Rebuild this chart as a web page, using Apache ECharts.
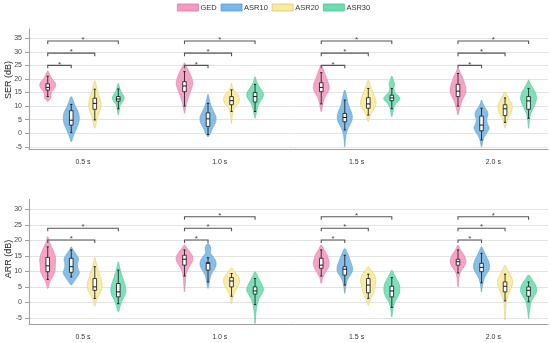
<!DOCTYPE html>
<html><head><meta charset="utf-8">
<script src="https://cdn.jsdelivr.net/npm/echarts@6/dist/echarts.min.js"></script>
<style>html,body{margin:0;padding:0;background:#fff}#c{width:550px;height:343px}</style>
</head><body><div id="c"></div>
<script>
const categories = ['0.5 s', '1.0 s', '1.5 s', '2.0 s'];
const groups = ['GED', 'ASR10', 'ASR20', 'ASR30'];
const serTicks = [-5, 0, 5, 10, 15, 20, 25, 30, 35];
const arrTicks = [-5, 0, 5, 10, 15, 20, 25, 30];

// Violin outlines per time window: [value in dB, relative density]
const serGED = [
  [[23.0,0],[22,0.2],[21,0.35],[20,0.55],[19,0.85],[18,1.0],[17,0.95],[16,0.7],[15,0.45],[14,0.4],[13,0.4],[12.3,0.2],[11.6,0]],
  [[26,0],[25,0.15],[24,0.35],[22,0.7],[20,0.95],[18.5,1.05],[17,0.95],[15,0.7],[13,0.45],[11,0.25],[9,0.12],[7.3,0]],
  [[25.1,0],[24,0.2],[22,0.45],[20,0.7],[18,0.95],[16.5,1.0],[15,0.8],[13.5,0.5],[12,0.3],[10,0.15],[7.9,0]],
  [[23.9,0],[22.5,0.25],[21,0.5],[19,0.75],[17,0.95],[15.5,1.0],[14,0.85],[12,0.5],[10,0.3],[8.5,0.15],[6.7,0]]
];
const serASR10 = [
  [[13.5,0],[12,0.25],[10,0.5],[8,0.85],[6,1.0],[4,0.95],[2,0.7],[0,0.4],[-1.5,0.2],[-3.2,0]],
  [[14.4,0],[12,0.2],[10,0.4],[8,0.7],[6,1.0],[4,0.95],[2,0.6],[0,0.3],[-1.3,0]],
  [[15.9,0],[14,0.2],[12,0.35],[10,0.5],[8,0.8],[6,0.95],[4,0.8],[2,0.45],[0,0.2],[-2,0.1],[-5,0]],
  [[12.2,0],[11,0.15],[9.5,0.4],[8,0.75],[6.5,0.8],[5,0.65],[3.5,0.75],[2,0.95],[0.5,0.75],[-1,0.4],[-2.5,0.2],[-5,0]]
];
const serASR20 = [
  [[19.4,0],[18,0.15],[16,0.3],[14,0.5],[12,0.7],[10,0.78],[8,0.6],[6,0.35],[4,0.2],[2.5,0.1],[1.8,0]],
  [[18.4,0],[17,0.12],[16,0.3],[15,0.55],[14,0.85],[12.5,1.0],[11,0.85],[10,0.55],[8.5,0.25],[7,0.12],[5,0.05],[3.6,0]],
  [[19.6,0],[18,0.2],[16,0.45],[14,0.75],[12,0.95],[10.5,0.95],[9,0.7],[7.5,0.4],[6,0.2],[4.2,0]],
  [[15.3,0],[14,0.25],[12.5,0.55],[11,0.8],[9.5,0.9],[8,0.8],[6.5,0.55],[5,0.3],[3.5,0.15],[1.8,0]]
];
const serASR30 = [
  [[18.4,0],[17,0.15],[16,0.25],[15,0.4],[14,0.62],[13,0.75],[12,0.62],[11,0.4],[10,0.2],[8.5,0.12],[6.7,0]],
  [[20.8,0],[19,0.2],[17.5,0.45],[16,0.8],[14.5,1.05],[13,0.95],[11.5,0.6],[10,0.35],[8,0.2],[6.5,0.1],[5.5,0]],
  [[21.1,0],[19.5,0.2],[18,0.35],[16.5,0.25],[15,0.4],[13.5,0.9],[12.5,1.0],[11,0.55],[9.5,0.25],[8,0.15],[6.1,0]],
  [[19.6,0],[18,0.25],[16.5,0.55],[15,0.85],[13,1.0],[11.5,0.9],[10,0.7],[8.5,0.45],[7,0.25],[5,0.12],[1.8,0]]
];
const arrGED = [
  [[21.2,0],[19.5,0.2],[18,0.45],[16,0.8],[14,1.0],[12,0.95],[10,0.9],[8,0.55],[6.5,0.25],[4.5,0]],
  [[18.5,0],[17.5,0.3],[16,0.75],[14.5,1.05],[13,0.95],[11.5,0.6],[10,0.3],[8,0.15],[6,0.1],[3.4,0]],
  [[18.5,0],[17,0.35],[15.5,0.7],[14,0.9],[12.5,1.0],[11,0.85],[9.5,0.5],[8,0.2],[6.1,0]],
  [[18.5,0],[17,0.3],[15.5,0.7],[14,0.95],[13,1.0],[11.5,0.75],[10,0.35],[8.5,0.15],[6.5,0.08],[5,0]]
];
const arrASR10 = [
  [[17.9,0],[17,0.2],[15.5,0.6],[14,0.9],[12.5,0.8],[11,0.85],[9.5,1.0],[8,0.7],[6.5,0.3],[5.6,0]],
  [[19,0],[18,0.3],[17,0.35],[16,0.3],[15,0.55],[13.5,0.95],[12,1.0],[10.5,0.75],[9,0.4],[7,0.2],[4.5,0]],
  [[17.4,0],[16,0.3],[14.5,0.55],[13,0.75],[11.5,0.95],[10,0.95],[8.5,0.6],[7,0.3],[5,0.12],[2.9,0]],
  [[17.9,0],[16.5,0.3],[15,0.55],[13.5,0.85],[12,1.0],[10.5,0.95],[9,0.6],[7.5,0.3],[5.5,0.12],[3.4,0]]
];
const arrASR20 = [
  [[14.5,0],[13,0.15],[11.5,0.3],[10,0.45],[8.5,0.65],[7,0.85],[5.5,0.95],[4,0.85],[2.5,0.55],[1,0.25],[-1.2,0]],
  [[11.2,0],[10.2,0.3],[9,0.7],[7.5,1.0],[6,0.95],[4.5,0.65],[3,0.35],[1.5,0.15],[-0.4,0]],
  [[11.5,0],[10.5,0.3],[9,0.75],[7.5,0.95],[6,0.9],[4.5,0.8],[3,0.65],[1.5,0.35],[0,0.15],[-0.9,0]],
  [[12,0],[10.5,0.3],[9,0.6],[7.5,0.9],[6,0.95],[4.5,0.75],[3,0.5],[1.5,0.3],[0,0.15],[-2.5,0.08],[-5.7,0]]
];
const arrASR30 = [
  [[13.1,0],[11.5,0.15],[10,0.3],[8,0.55],[6,0.8],[4,0.95],[2.5,0.85],[1,0.55],[-1,0.25],[-3.1,0]],
  [[9.9,0],[8.5,0.3],[7,0.6],[5.5,0.9],[4,1.05],[2.5,0.8],[1,0.45],[-1,0.25],[-3,0.12],[-5,0.06],[-6.8,0]],
  [[10.4,0],[9,0.3],[7.5,0.6],[6,0.9],[4.5,1.0],[3,0.95],[1.5,0.7],[0,0.35],[-2,0.15],[-4.7,0]],
  [[8.8,0],[7.5,0.4],[6,0.8],[4.5,1.0],[3,0.95],[1.5,0.6],[0,0.3],[-2,0.15],[-3.5,0.08],[-5.2,0]]
];

// Box stats: [lower whisker, Q1, median, Q3, upper whisker]
const serGEDBox   = [[13.5,15.9,16.9,18.2,21],[10,15.3,17.4,19,22.7],[10.8,15.3,16.9,18.6,22.3],[10,13.5,15.5,18,22]];
const serASR10Box = [[0.2,3.0,4.8,8.3,10.6],[-0.5,2.5,5.3,7.5,11],[1.2,4.2,5.8,7.3,12.2],[-2.5,0.9,3.0,6.3,9.2]];
const serASR20Box = [[4.9,8.8,11.0,12.9,16.2],[8,10.5,12.0,13.5,16],[6.7,9.2,10.8,13.1,16.5],[4,6.5,9,10.5,13]];
const serASR30Box = [[9,11.8,12.6,13.5,16.3],[8,11.5,13.5,15,18],[9,12,13,14,16.5],[5.5,8.8,11.9,13.5,16.5]];
const arrGEDBox   = [[7.4,9.9,11.8,14.5,17.9],[8.5,12.0,13.9,15.2,16.9],[8.5,11.0,12.0,14.2,16.9],[9.5,12.0,13.1,13.9,16.9]];
const arrASR10Box = [[8.2,9.7,11.5,14.2,16.9],[6.6,10.4,12.6,12.8,14.4],[5.6,8.8,10.7,11.5,15.2],[6.3,9.9,11.3,12.6,15.8]];
const arrASR20Box = [[1.3,3.9,5.0,7.7,11.5],[2.0,5.0,6.9,8.0,9.3],[1.3,3.1,5.6,7.7,9.1],[0.5,3.4,5.2,6.6,9.1]];
const arrASR30Box = [[-0.4,1.8,3.4,6.1,10.4],[-0.7,2.7,3.7,5.0,7.7],[-1.6,1.8,3.7,5.2,8.0],[0.2,2.0,3.9,5.0,6.6]];

// Significance brackets: [time index, from group, to group, height (dB)]
const serBrackets = [
  [0,0,1,25],[0,0,2,29.5],[0,0,3,34],
  [1,0,1,25],[1,0,2,29.5],[1,0,3,34],
  [2,0,1,25],[2,0,2,29.5],[2,0,3,34],
  [3,0,1,25],[3,0,2,29.5],[3,0,3,34]
];
const arrBrackets = [
  [0,0,2,20.1],[0,0,3,23.9],
  [1,0,1,20.1],[1,0,2,23.9],[1,0,3,27.6],
  [2,0,1,20.1],[2,0,2,23.9],[2,0,3,27.6],
  [3,0,1,20.1],[3,0,2,23.9],[3,0,3,27.6]
];

const COLORS = ['#F49AC1', '#79B7E6', '#F7EA9C', '#6EDDB1'];
const EDGES  = ['#E07AA6', '#5A9DD2', '#DCCB6E', '#4DC295'];
const DODGE = 0.172;
const HALF = 8;
const BOXH = 1.8;
const FONT = 'Liberation Sans, Arial, sans-serif';

const profiles = [[serGED, serASR10, serASR20, serASR30], [arrGED, arrASR10, arrASR20, arrASR30]];
const boxes = [[serGEDBox, serASR10Box, serASR20Box, serASR30Box], [arrGEDBox, arrASR10Box, arrASR20Box, arrASR30Box]];
const brackets = [serBrackets, arrBrackets];

function makeViolin(prof, box, h) {
  return function (params, api) {
    const i = params.dataIndex;
    const p = prof[i], b = box[i];
    const xc = i + (h - 1.5) * DODGE;
    const cx = api.coord([xc, 0])[0];
    const right = [], left = [];
    p.forEach(function (d) {
      const y = api.coord([xc, d[0]])[1];
      right.push([cx + d[1] * HALF, y]);
      left.push([cx - d[1] * HALF, y]);
    });
    const pts = right.concat(left.slice(1, -1).reverse());
    const yv = b.map(function (v) { return api.coord([xc, v])[1]; });
    return {
      type: 'group',
      children: [
        { type: 'polygon', shape: { points: pts, smooth: 0.35 },
          style: { fill: COLORS[h], opacity: 0.9, stroke: EDGES[h], lineWidth: 0.6 } },
        { type: 'line', shape: { x1: cx, y1: yv[0], x2: cx, y2: yv[4] },
          style: { stroke: '#111', lineWidth: 0.8 } },
        { type: 'line', shape: { x1: cx - 1.1, y1: yv[0], x2: cx + 1.1, y2: yv[0] },
          style: { stroke: '#111', lineWidth: 0.9 } },
        { type: 'line', shape: { x1: cx - 1.1, y1: yv[4], x2: cx + 1.1, y2: yv[4] },
          style: { stroke: '#111', lineWidth: 0.9 } },
        { type: 'rect', shape: { x: cx - BOXH, y: yv[3], width: 2 * BOXH, height: yv[1] - yv[3] },
          style: { fill: '#fff', stroke: '#111', lineWidth: 0.8 } },
        { type: 'line', shape: { x1: cx - BOXH, y1: yv[2], x2: cx + BOXH, y2: yv[2] },
          style: { stroke: '#111', lineWidth: 1 } }
      ]
    };
  };
}

function makeBracket(list) {
  return function (params, api) {
    const br = list[params.dataIndex];
    const xa = br[0] + (br[1] - 1.5) * DODGE;
    const xb = br[0] + (br[2] - 1.5) * DODGE;
    const pa = api.coord([xa, br[3]]);
    const pb = api.coord([xb, br[3]]);
    const t = 3;
    return {
      type: 'group',
      children: [
        { type: 'polyline', shape: { points: [[pa[0], pa[1] + t], [pa[0], pa[1]], [pb[0], pb[1]], [pb[0], pb[1] + t]] },
          style: { stroke: '#555', lineWidth: 1.1, fill: 'none' } },
        { type: 'text', x: (pa[0] + pb[0]) / 2, y: pa[1] - 1,
          style: { text: '*', fill: '#444', font: '8px ' + FONT, align: 'center', verticalAlign: 'middle' } }
      ]
    };
  };
}

const grids = [
  { left: 29, right: 2, top: 29, height: 120.5 },
  { left: 29, right: 2, top: 199.3, height: 125.2 }
];
const yRanges = [[-6, 38.4], [-7.1, 33.2]];
const tickLists = [serTicks, arrTicks];

const xAxes = [0, 1].map(function (p) {
  return {
    gridIndex: p, type: 'value', min: -0.395, max: 3.4,
    axisLine: { show: true, onZero: false, lineStyle: { color: '#a0a0a0', width: 1 } },
    axisTick: { show: false },
    splitLine: { show: false },
    axisLabel: { customValues: [0, 1, 2, 3], formatter: function (v) { return categories[Math.round(v)]; },
      fontSize: 7, color: '#333', margin: 9, fontFamily: FONT }
  };
});
const yAxes = [0, 1].map(function (p) {
  return {
    gridIndex: p, type: 'value', min: yRanges[p][0], max: yRanges[p][1],
    axisLine: { show: true, onZero: false, lineStyle: { color: '#a0a0a0', width: 1 } },
    axisTick: { show: true, length: 4, customValues: tickLists[p], lineStyle: { color: '#a0a0a0' } },
    axisLabel: { customValues: tickLists[p], fontSize: 7, color: '#444', margin: 7, fontFamily: FONT },
    splitLine: { show: true, lineStyle: { color: '#e4e4e4', width: 1 } }
  };
});

const series = [];
[0, 1].forEach(function (p) {
  groups.forEach(function (g, h) {
    series.push({
      type: 'custom', name: g, xAxisIndex: p, yAxisIndex: p, silent: true, z: 2,
      itemStyle: { color: COLORS[h], borderColor: EDGES[h], borderWidth: 0.8 },
      data: categories.map(function (c, i) { return [i, 0]; }),
      renderItem: makeViolin(profiles[p][h], boxes[p][h], h)
    });
  });
  series.push({
    type: 'custom', name: 'brackets' + p, xAxisIndex: p, yAxisIndex: p, silent: true, z: 3,
    data: brackets[p].map(function (b) { return [b[0], b[3]]; }),
    renderItem: makeBracket(brackets[p])
  });
});

const chart = echarts.init(document.getElementById('c'), null, { renderer: 'canvas' });
chart.setOption({
  animation: false,
  backgroundColor: '#fff',
  textStyle: { fontFamily: FONT },
  grid: grids,
  xAxis: xAxes,
  yAxis: yAxes,
  legend: {
    data: groups.map(function (g, h) {
      return { name: g, itemStyle: { color: COLORS[h], borderColor: EDGES[h], borderWidth: 0.8 } };
    }),
    left: 177, top: 3.5, padding: 0, itemWidth: 21, itemHeight: 7, itemGap: 4, icon: 'rect',
    selectedMode: false,
    textStyle: { fontSize: 7.5, color: '#333', fontFamily: FONT, padding: [0, 0, 0, -3] }
  },
  graphic: [
    { type: 'text', x: 8.5, y: 80, rotation: Math.PI / 2,
      style: { text: 'SER (dB)', font: '9px ' + FONT, fill: '#222', align: 'center', verticalAlign: 'middle' } },
    { type: 'text', x: 8.5, y: 259, rotation: Math.PI / 2,
      style: { text: 'ARR (dB)', font: '9px ' + FONT, fill: '#222', align: 'center', verticalAlign: 'middle' } }
  ],
  series: series
});
</script>
</body></html>
